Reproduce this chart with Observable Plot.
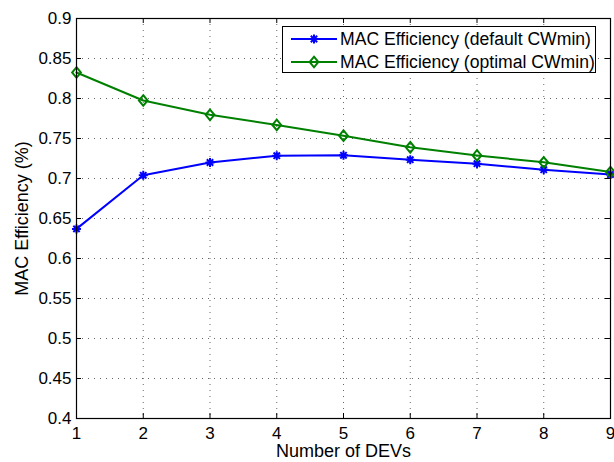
<!DOCTYPE html>
<html>
<head>
<meta charset="utf-8">
<script src="https://cdn.jsdelivr.net/npm/d3@7"></script>
<script src="https://cdn.jsdelivr.net/npm/@observablehq/plot@0.6"></script>
<style>
  body { margin: 0; background: #fff; }
  #wrap { position: relative; width: 614px; height: 462px; font-family: "Liberation Sans", Arial, Helvetica, sans-serif; }
  #legend { position: absolute; left: 282px; top: 26px; width: 312px; height: 45px; border: 1px solid #000; background: #fff; }
  #legend svg { position: absolute; left: 0; top: 0; }
</style>
</head>
<body>
<div id="wrap"></div>
<script>
// ---- data ----
const devs = [1, 2, 3, 4, 5, 6, 7, 8, 9];
const defaultCW = [0.637, 0.704, 0.720, 0.7285, 0.729, 0.7235, 0.7185, 0.711, 0.705];
const optimalCW = [0.8325, 0.7975, 0.7796, 0.767, 0.7535, 0.739, 0.7288, 0.7202, 0.708];
const xTicks = [1, 2, 3, 4, 5, 6, 7, 8, 9];
const yTicks = [0.4, 0.45, 0.5, 0.55, 0.6, 0.65, 0.7, 0.75, 0.8, 0.85, 0.9];
const seriesNames = ["MAC Efficiency (default CWmin)", "MAC Efficiency (optimal CWmin)"];
const colors = ["#0000ff", "#008000"];
const xLabel = "Number of DEVs";
const yLabel = "MAC Efficiency (%)";

// ---- custom symbols (MATLAB-like) ----
const star8 = {
  draw(ctx, size) {
    const r = Math.sqrt(size / Math.PI);
    const d = r * Math.SQRT1_2;
    ctx.moveTo(-r, 0); ctx.lineTo(r, 0);
    ctx.moveTo(0, -r); ctx.lineTo(0, r);
    ctx.moveTo(-d, -d); ctx.lineTo(d, d);
    ctx.moveTo(-d, d); ctx.lineTo(d, -d);
  }
};
const diamond = {
  draw(ctx, size) {
    const r = Math.sqrt(size / Math.PI);
    ctx.moveTo(0, -r * 1.15);
    ctx.lineTo(r * 0.95, 0);
    ctx.lineTo(0, r * 1.15);
    ctx.lineTo(-r * 0.95, 0);
    ctx.closePath();
  }
};

const rows = devs.map((d, i) => ({x: d, a: defaultCW[i], b: optimalCW[i]}));
const FS = 17;
const LFS = 18;

const chart = Plot.plot({
  width: 614,
  height: 462,
  marginLeft: 76,
  marginRight: 4,
  marginTop: 18,
  marginBottom: 44,
  style: {fontFamily: '"Liberation Sans", Arial, Helvetica, sans-serif', fontSize: FS + "px", background: "#fff", color: "#000"},
  x: {domain: [1, 9]},
  y: {domain: [0.4, 0.9]},
  marks: [
    Plot.gridX(xTicks, {stroke: "#000", strokeOpacity: 0.6, strokeDasharray: "1,5"}),
    Plot.gridY(yTicks, {stroke: "#000", strokeOpacity: 0.6, strokeDasharray: "1,5"}),
    Plot.axisX(xTicks, {tickSize: 0, tickPadding: 8, tickFormat: d => String(d), fontSize: FS, label: null}),
    Plot.axisY(yTicks, {tickSize: 0, tickPadding: 5, tickFormat: d => String(d), fontSize: FS, label: null}),
    Plot.tickX(xTicks, {x: d => d, insetTop: 395, stroke: "#000"}),
    Plot.tickX(xTicks, {x: d => d, insetBottom: 395, stroke: "#000"}),
    Plot.tickY(yTicks, {y: d => d, insetRight: 529, stroke: "#000"}),
    Plot.tickY(yTicks, {y: d => d, insetLeft: 529, stroke: "#000"}),
    Plot.line(rows, {x: "x", y: "a", stroke: colors[0], strokeWidth: 2}),
    Plot.line(rows, {x: "x", y: "b", stroke: colors[1], strokeWidth: 2}),
    Plot.dot(rows, {x: "x", y: "a", symbol: star8, r: 4.5, stroke: colors[0], strokeWidth: 2, fill: "none"}),
    Plot.dot(rows, {x: "x", y: "b", symbol: diamond, r: 4.6, stroke: colors[1], strokeWidth: 2, fill: "none"}),
    Plot.frame({stroke: "#000", strokeWidth: 1.2}),
    Plot.text([xLabel], {text: d => d, frameAnchor: "bottom", dy: 33, lineAnchor: "middle", fontSize: LFS, fill: "#000"}),
    Plot.text([yLabel], {text: d => d, frameAnchor: "left", dx: -54, rotate: -90, lineAnchor: "middle", textAnchor: "middle", fontSize: LFS, fill: "#000"})
  ]
});

const wrap = document.getElementById("wrap");
wrap.appendChild(chart);

// ---- legend ----
const legend = document.createElement("div");
legend.id = "legend";
const rowY = [12, 35];
const LEG_FS = 17.6;
let svg = '<svg width="312" height="45" xmlns="http://www.w3.org/2000/svg" font-family="Liberation Sans, Arial, Helvetica, sans-serif" font-size="' + LEG_FS + '">';
const symPaths = [
  (cx, cy) => { const r = 4.5, d = r * Math.SQRT1_2; return `<path d="M${cx-r},${cy}L${cx+r},${cy}M${cx},${cy-r}L${cx},${cy+r}M${cx-d},${cy-d}L${cx+d},${cy+d}M${cx-d},${cy+d}L${cx+d},${cy-d}" stroke="${colors[0]}" stroke-width="2" fill="none"/>`; },
  (cx, cy) => { const r = 4.6; return `<path d="M${cx},${cy-r*1.15}L${cx+r*0.95},${cy}L${cx},${cy+r*1.15}L${cx-r*0.95},${cy}Z" stroke="${colors[1]}" stroke-width="2" fill="none"/>`; }
];
seriesNames.forEach((name, i) => {
  const cy = rowY[i];
  svg += `<line x1="8" x2="54" y1="${cy}" y2="${cy}" stroke="${colors[i]}" stroke-width="2"/>`;
  svg += symPaths[i](31, cy);
  svg += `<text x="57" y="${cy + 6.3}" fill="#000">${name}</text>`;
});
svg += '</svg>';
legend.innerHTML = svg;
wrap.appendChild(legend);
</script>
</body>
</html>
